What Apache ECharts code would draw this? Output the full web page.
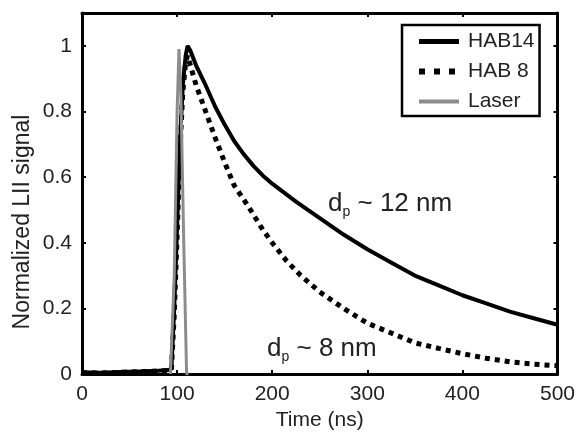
<!DOCTYPE html>
<html><head><meta charset="utf-8">
<script src="https://cdn.jsdelivr.net/npm/echarts@6/dist/echarts.min.js"></script>
<style>html,body{margin:0;padding:0;background:#fff}#c{width:578px;height:436px}</style>
</head><body><div id="c"></div>
<script>
const xTicks = [0, 100, 200, 300, 400, 500];
const yTicks = [0, 0.2, 0.4, 0.6, 0.8, 1];
const hab14Time = [0,20,40,60,80,90,94,97,100,103,106,109,111,114,120,130,140,150,160,170,180,190,200,225,250,275,300,325,350,375,400,425,450,475,500];
const hab14Vals = [0.005,0.004,0.006,0.008,0.01,0.012,0.015,0.2,0.45,0.7,0.88,0.97,1.0,0.985,0.94,0.88,0.815,0.76,0.71,0.67,0.635,0.605,0.58,0.525,0.475,0.425,0.38,0.34,0.30,0.27,0.24,0.215,0.19,0.17,0.15];
const hab8Time = [0,20,40,60,80,90,94,97,100,103,106,109,111,115,120,130,140,150,160,175,190,200,215,230,250,275,300,325,350,375,400,425,450,475,500];
const hab8Vals = [0.004,0.003,0.005,0.007,0.009,0.01,0.012,0.18,0.42,0.68,0.86,0.95,0.97,0.93,0.88,0.80,0.72,0.645,0.575,0.51,0.44,0.40,0.345,0.30,0.25,0.20,0.155,0.125,0.095,0.078,0.062,0.048,0.037,0.03,0.025];
const laserTime = [93,95,97,100,102,104,107,110,112];
const laserVals = [0,0,0.3,0.8,0.99,0.85,0.4,0,0];
const seriesNames = ['HAB14', 'HAB 8', 'Laser'];

const zip = (a, b) => a.map((v, i) => [v, b[i]]);
const FONT = 'Liberation Sans, Arial, sans-serif';
const chart = echarts.init(document.getElementById('c'), null, {renderer: 'canvas'});
const axisCommon = () => ({
  axisLine: {show: true, onZero: false, lineStyle: {color: '#000', width: 3}},
  axisTick: {show: true, inside: true, length: 4, lineStyle: {color: '#000', width: 2}},
  splitLine: {show: false}
});
const subRich = {
  a: {fontSize: 26, fontFamily: FONT, fill: '#222', lineHeight: 30},
  s: {fontSize: 14, fontFamily: FONT, fill: '#222', verticalAlign: 'bottom', lineHeight: 30}
};
chart.setOption({
  animation: false,
  backgroundColor: '#fff',
  grid: {left: 82, right: 20, top: 13, bottom: 61},
  xAxis: [
    Object.assign({type: 'value', min: 0, max: 500, interval: 100, position: 'bottom',
      name: 'Time (ns)', nameLocation: 'middle', nameGap: 36,
      nameTextStyle: {color: '#222', fontSize: 21, fontFamily: FONT},
      axisLabel: {color: '#222', fontSize: 21, fontFamily: FONT, margin: 10}}, axisCommon()),
    Object.assign({type: 'value', min: 0, max: 500, interval: 100, position: 'top',
      axisLabel: {show: false}}, axisCommon())
  ],
  yAxis: [
    Object.assign({type: 'value', min: 0, max: 1.1, interval: 0.2, position: 'left',
      axisLabel: {color: '#222', fontSize: 21, fontFamily: FONT, margin: 10,
        formatter: v => (yTicks.some(t => Math.abs(t - v) < 1e-9) ? String(+v.toFixed(1)) : '')}}, axisCommon()),
    Object.assign({type: 'value', min: 0, max: 1.1, interval: 0.2, position: 'right',
      axisLabel: {show: false}}, axisCommon())
  ],
  legend: {
    orient: 'vertical', left: 402, top: 25,
    data: [
      {name: seriesNames[0], lineStyle: {width: 5, color: '#000'}},
      {name: seriesNames[1], lineStyle: {width: 6, color: '#000', type: [6, 9]}},
      {name: seriesNames[2], lineStyle: {width: 4, color: '#8c8c8c'}}
    ],
    itemWidth: 40, itemHeight: 12, itemGap: 9,
    padding: [6, 5, 4, 14],
    borderColor: '#000', borderWidth: 2.5, backgroundColor: '#fff',
    itemStyle: {opacity: 0},
    textStyle: {color: '#222', fontSize: 21, fontFamily: FONT, padding: [0, 0, 0, 4]}
  },
  graphic: [
    {type: 'text', x: 23, y: 222, rotation: Math.PI / 2, z: 10,
      style: {text: 'Normalized LII signal', fill: '#222', font: '23px ' + FONT, align: 'center', verticalAlign: 'middle'}},
    {type: 'text', left: 328, top: 191, z: 10, style: {text: '{a|d}{s|p}{a| ~ 12 nm}', fill: '#222', rich: subRich}},
    {type: 'text', left: 267, top: 336, z: 10, style: {text: '{a|d}{s|p}{a| ~ 8 nm}', fill: '#222', rich: subRich}}
  ],
  series: [
    {name: seriesNames[0], type: 'line', data: zip(hab14Time, hab14Vals), showSymbol: false, symbol: 'none',
      lineStyle: {color: '#000', width: 4}, itemStyle: {color: '#000'}, z: 3},
    {name: seriesNames[1], type: 'line', data: zip(hab8Time, hab8Vals), showSymbol: false, symbol: 'none',
      lineStyle: {color: '#000', width: 5, type: [5, 5]}, itemStyle: {color: '#000'}, z: 3},
    {name: seriesNames[2], type: 'line', data: zip(laserTime, laserVals), showSymbol: false, symbol: 'none',
      lineStyle: {color: '#8c8c8c', width: 3}, itemStyle: {color: '#8c8c8c'}, z: 4}
  ]
});
</script></body></html>
